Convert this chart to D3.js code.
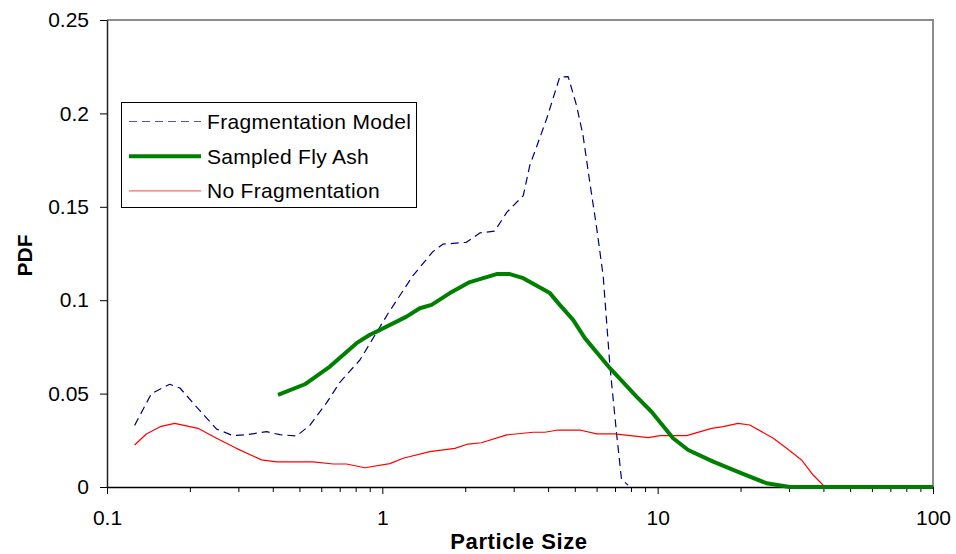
<!DOCTYPE html>
<html>
<head>
<meta charset="utf-8">
<script src="https://cdn.jsdelivr.net/npm/d3@7"></script>
<style>
body { margin: 0; background: #fff; }
svg text { font-family: "Liberation Sans", Arial, sans-serif; }
</style>
</head>
<body>
<div id="chart"></div>
<script>
// Fragmentation Model (dashed)
var fragSize = [0.126, 0.145, 0.169, 0.184, 0.217, 0.250, 0.287, 0.321, 0.380, 0.425, 0.488, 0.545, 0.627, 0.701, 0.829, 1.05, 1.29, 1.526, 1.659, 2.02, 2.26, 2.56, 2.83, 3.25, 3.43, 3.63, 3.95, 4.41, 4.73, 5.08, 5.36, 5.67, 6.0, 6.34, 6.71, 7.09, 7.39, 7.81];
var fragPdf  = [0.033, 0.050, 0.055, 0.053, 0.041, 0.031, 0.0275, 0.028, 0.0296, 0.028, 0.0273, 0.033, 0.045, 0.056, 0.068, 0.093, 0.113, 0.126, 0.130, 0.131, 0.136, 0.137, 0.147, 0.156, 0.172, 0.182, 0.197, 0.2195, 0.2197, 0.204, 0.188, 0.163, 0.139, 0.113, 0.0645, 0.0288, 0.0041, 0.001];
// Sampled Fly Ash (thick green)
var ashSize = [0.418, 0.523, 0.645, 0.806, 0.901, 0.979, 1.224, 1.368, 1.509, 1.759, 2.079, 2.60, 2.905, 3.25, 4.06, 4.41, 4.93, 5.44, 6.71, 8.38, 9.50, 11.38, 12.91, 15.91, 19.89, 24.86, 30.2, 100];
var ashPdf  = [0.0493, 0.055, 0.0645, 0.077, 0.0815, 0.084, 0.0912, 0.0957, 0.0975, 0.1038, 0.1097, 0.114, 0.114, 0.1118, 0.1038, 0.0975, 0.0895, 0.0797, 0.0636, 0.0484, 0.0403, 0.0261, 0.0198, 0.0136, 0.0077, 0.002, 0, 0];
// No Fragmentation (thin red)
var noFragSize = [0.126, 0.139, 0.156, 0.176, 0.214, 0.250, 0.295, 0.364, 0.413, 0.561, 0.663, 0.741, 0.864, 1.065, 1.19, 1.488, 1.834, 2.05, 2.29, 2.83, 3.53, 3.89, 4.35, 5.22, 6.0, 6.99, 9.24, 10.19, 12.74, 15.7, 17.3, 19.6, 21.6, 26.3, 29.4, 33.3, 36.7, 40.5, 100];
var noFragPdf  = [0.0225, 0.0284, 0.0323, 0.0341, 0.0314, 0.0261, 0.0207, 0.0145, 0.0134, 0.0134, 0.0123, 0.0123, 0.0103, 0.0125, 0.0154, 0.0189, 0.0207, 0.023, 0.0237, 0.0279, 0.0293, 0.0293, 0.0305, 0.0305, 0.0284, 0.0284, 0.0264, 0.0275, 0.0275, 0.0314, 0.0323, 0.0341, 0.0332, 0.0261, 0.0207, 0.0145, 0.0064, 0, 0];

var seriesNames = ["Fragmentation Model", "Sampled Fly Ash", "No Fragmentation"];
var xTicks = [0.1, 1, 10, 100];
var xTickLabels = ["0.1", "1", "10", "100"];
var yTicks = [0, 0.05, 0.1, 0.15, 0.2, 0.25];
var yTickLabels = ["0", "0.05", "0.1", "0.15", "0.2", "0.25"];

var w = 956, h = 554;
// plot box (note: "top" is taken by window.top)
var plotLeft = 107, plotRight = 933, plotTop = 20, plotBottom = 487;

var svg = d3.select("#chart").append("svg")
	.attr("width", w)
	.attr("height", h);

var x = d3.scaleLog().domain([0.1, 100]).range([plotLeft, plotRight]);
var y = d3.scaleLinear().domain([0, 0.25]).range([plotBottom, plotTop]);

// gray frame on top and right
svg.append("path")
	.attr("d", "M" + plotLeft + "," + plotTop + "H" + plotRight + "V" + plotBottom)
	.attr("fill", "none")
	.attr("stroke", "#8c8c8c")
	.attr("stroke-width", 2);

// minor x ticks
var minor = [];
[0.1, 1, 10].forEach(function(d) { for (var k = 2; k <= 9; k++) minor.push(d * k); });
svg.append("g")
	.attr("transform", "translate(0," + plotBottom + ")")
	.call(d3.axisBottom(x).tickValues(minor).tickSize(5).tickFormat(""))
	.call(function(g) { g.select(".domain").remove(); })
	.selectAll("line").attr("stroke", "#000");

// major x axis
var xAxis = svg.append("g")
	.attr("transform", "translate(0," + plotBottom + ")")
	.call(d3.axisBottom(x).tickValues(xTicks).tickSizeInner(7).tickSizeOuter(0).tickPadding(16)
		.tickFormat(function(d, i) { return xTickLabels[i]; }));
xAxis.select(".domain").attr("stroke", "#000").attr("stroke-width", 1.5);
xAxis.selectAll("text").attr("font-size", 21).attr("fill", "#000")
	.attr("font-family", "'Liberation Sans', Arial, sans-serif");

// y axis
var yAxis = svg.append("g")
	.attr("transform", "translate(" + plotLeft + ",0)")
	.call(d3.axisLeft(y).tickValues(yTicks).tickSizeInner(7).tickSizeOuter(0).tickPadding(11)
		.tickFormat(function(d, i) { return yTickLabels[i]; }));
yAxis.select(".domain").attr("stroke", "#222").attr("stroke-width", 1.5);
yAxis.selectAll("text").attr("font-size", 21).attr("fill", "#000")
	.attr("font-family", "'Liberation Sans', Arial, sans-serif");

// axis titles
svg.append("text")
	.attr("x", (plotLeft + plotRight) / 2 - 1)
	.attr("y", 549)
	.attr("text-anchor", "middle")
	.attr("font-size", 22)
	.attr("font-weight", "bold")
	.style("letter-spacing", "0.6px")
	.text("Particle Size");
svg.append("text")
	.attr("transform", "translate(24," + ((plotTop + plotBottom) / 2 + 2) + ") rotate(-90)")
	.attr("text-anchor", "middle")
	.attr("dy", "0.36em")
	.attr("font-size", 21)
	.attr("font-weight", "bold")
	.text("PDF");

function pairs(xs, ys) { return xs.map(function(d, i) { return [d, ys[i]]; }); }
var line = d3.line().x(function(d) { return x(d[0]); }).y(function(d) { return y(d[1]); });

var series = [
	{ name: seriesNames[0], data: pairs(fragSize, fragPdf), color: "#000080", width: 1.2, dash: "8,5" },
	{ name: seriesNames[2], data: pairs(noFragSize, noFragPdf), color: "#ff0000", width: 1.2, dash: null },
	{ name: seriesNames[1], data: pairs(ashSize, ashPdf), color: "#008000", width: 4, dash: null }
];

svg.selectAll("path.series")
	.data(series).enter().append("path")
	.attr("class", "series")
	.attr("fill", "none")
	.attr("stroke", function(d) { return d.color; })
	.attr("stroke-width", function(d) { return d.width; })
	.attr("stroke-dasharray", function(d) { return d.dash; })
	.attr("stroke-linejoin", "round")
	.attr("d", function(d) { return line(d.data); });

// legend (same order as the series names)
var legendItems = series.slice().sort(function(a, b) { return seriesNames.indexOf(a.name) - seriesNames.indexOf(b.name); });
var legend = svg.append("g");
legend.append("rect")
	.attr("x", 121.5).attr("y", 102.5)
	.attr("width", 295).attr("height", 105)
	.attr("fill", "#fff")
	.attr("stroke", "#000")
	.attr("stroke-width", 1);
var rows = legend.selectAll("g.row")
	.data(legendItems).enter().append("g")
	.attr("class", "row")
	.attr("transform", function(d, i) { return "translate(0," + (121.5 + i * 34.7) + ")"; });
rows.append("line")
	.attr("x1", 129).attr("x2", 201)
	.attr("stroke", function(d) { return d.dash ? "#5555aa" : d.color; })
	.attr("stroke-opacity", function(d) { return d.width < 2 && !d.dash ? 0.6 : 1; })
	.attr("stroke-width", function(d) { return d.width; })
	.attr("stroke-dasharray", function(d) { return d.dash; });
rows.append("text")
	.attr("x", 207)
	.attr("dy", "0.36em")
	.attr("font-size", 21)
	.style("letter-spacing", "0.3px")
	.text(function(d) { return d.name; });
</script>
</body>
</html>
